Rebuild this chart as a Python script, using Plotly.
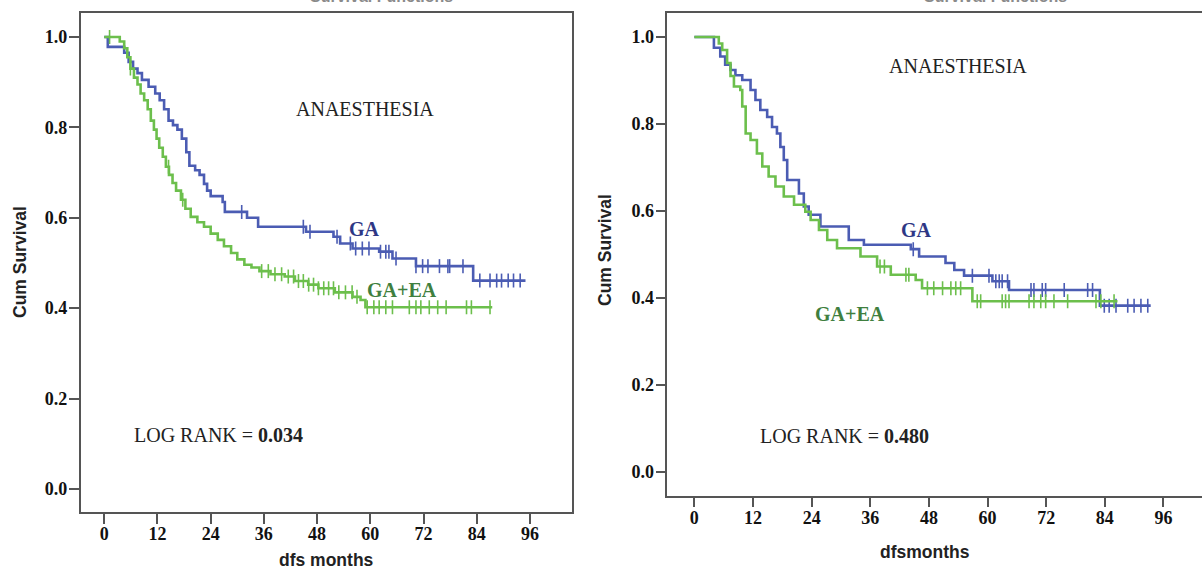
import numpy as np
import plotly.graph_objects as go

# ---------------- data ----------------
# Left panel
L_GA_t = [0, 0.8, 4.5, 5.5, 6.5, 7.5, 8.5, 10, 11.5, 12.5, 13.5, 14.5, 15.5, 16.5, 17.5, 18.5, 19.2,
          20.5, 21.5, 22.5, 23.2, 24, 26.7, 27.2, 32.2, 34.7, 45.5, 51.7, 53.2, 56, 62, 65, 70.3, 83.2, 95]
L_GA_s = [1.0, 0.978, 0.965, 0.945, 0.93, 0.92, 0.905, 0.89, 0.875, 0.86, 0.84, 0.815, 0.805, 0.795, 0.775,
          0.745, 0.715, 0.705, 0.695, 0.675, 0.66, 0.648, 0.635, 0.613, 0.60, 0.58, 0.569, 0.558, 0.543,
          0.532, 0.525, 0.51, 0.493, 0.461, 0.461]
L_GA_cens = [31, 44.9, 46.4, 52.5, 55.5, 56.7, 58.2, 59.7, 62.3, 63.5, 64.2, 65.8, 70.3, 71.8, 73, 75.6,
             77.5, 77.9, 80.9, 84.7, 87, 88.5, 89.6, 91.1, 92.3, 93.8]

L_EA_t = [0, 3.5, 4.5, 5.2, 5.9, 6.7, 7.5, 8.2, 9, 9.8, 10.5, 11.2, 11.8, 12.4, 13.2, 13.9, 14.6, 15.4,
          16.2, 17.3, 18.3, 19.5, 21, 22.5, 24, 25.6, 27, 28.6, 30, 31.6, 33.2, 35, 37.5, 40.7, 43, 46,
          48.3, 52, 56, 57.8, 58.9, 87.5]
L_EA_s = [1.0, 0.99, 0.975, 0.955, 0.93, 0.91, 0.895, 0.875, 0.86, 0.84, 0.815, 0.795, 0.775, 0.755,
          0.735, 0.713, 0.695, 0.677, 0.66, 0.64, 0.62, 0.602, 0.59, 0.58, 0.565, 0.551, 0.537, 0.522,
          0.508, 0.496, 0.49, 0.482, 0.475, 0.47, 0.46, 0.452, 0.444, 0.435, 0.425, 0.418, 0.402, 0.402]
L_EA_cens = [1.2, 5.9, 14.5, 17.7, 35.5, 37, 38.5, 40, 41.5, 42.7, 43.8, 44.9, 46.1, 47.2, 48.3, 49.5,
             50.6, 51.7, 52.9, 54.4, 55.9, 57, 59.3, 60.8, 62, 63.5, 65, 68.8, 70.3, 71.4, 73.3, 75.2,
             77.1, 81.7, 82.8, 87]

# Right panel
R_GA_t = [0, 4, 5.3, 6.3, 7.4, 8.4, 9.8, 11.5, 12.5, 13.5, 14.9, 15.9, 16.9, 17.6, 18.3, 19, 21.4,
          22.4, 23.4, 25.8, 31.6, 34.7, 44.3, 46, 51.4, 53.2, 55.2, 61, 64.4, 83, 93.4]
R_GA_s = [1.0, 0.975, 0.955, 0.936, 0.924, 0.912, 0.901, 0.878, 0.855, 0.832, 0.816, 0.793, 0.778,
          0.747, 0.717, 0.671, 0.64, 0.61, 0.591, 0.564, 0.533, 0.522, 0.512, 0.495, 0.48, 0.464,
          0.451, 0.438, 0.418, 0.382, 0.382]
R_GA_cens = [44.8, 56.9, 60.3, 61.7, 62.4, 63, 64.1, 68.9, 69.5, 71.2, 71.9, 75.7, 80.5, 81.5, 83.9,
             84.9, 86.3, 88.7, 90, 91.4, 92.8]

R_EA_t = [0, 5, 5.7, 6.7, 7.4, 8.1, 9.4, 9.8, 10.5, 11.5, 12.8, 13.9, 15.2, 16.6, 18.3, 20.4, 22.7,
          23.8, 25.5, 27.2, 29.2, 34, 37.4, 40.2, 45.3, 46.6, 56.9, 86.6]
R_EA_s = [1.0, 0.985, 0.97, 0.94, 0.91, 0.886, 0.878, 0.84, 0.778, 0.763, 0.732, 0.702, 0.679, 0.656,
          0.633, 0.614, 0.598, 0.579, 0.556, 0.533, 0.514, 0.495, 0.472, 0.453, 0.441, 0.422, 0.392,
          0.392]
R_EA_cens = [38, 38.9, 43.3, 43.9, 47.7, 49, 50.8, 52.5, 53.5, 54.5, 57.9, 58.6, 63, 63.7, 64.4, 68.5,
             69.5, 70.9, 71.9, 73.6, 76.4, 82.2, 83.2, 85.9]

x_ticks = [0, 12, 24, 36, 48, 60, 72, 84, 96]
y_ticks = [0.0, 0.2, 0.4, 0.6, 0.8, 1.0]

BLUE = "#4b5cb3"
GREEN = "#6cbf4c"
NAVY = "#2e3785"
DKGREEN = "#3f7f3f"


def step_at(times, surv, pts):
    idx = np.searchsorted(np.asarray(times), np.asarray(pts), side="right") - 1
    return [surv[i] for i in idx]


fig = go.Figure()


def add_group(t, s, cens, color, xa, ya):
    fig.add_trace(go.Scatter(x=t, y=s, mode="lines", line=dict(color=color, width=2.6, shape="hv"),
                             xaxis=xa, yaxis=ya, showlegend=False, hoverinfo="skip"))
    fig.add_trace(go.Scatter(x=cens, y=step_at(t, s, cens), mode="markers",
                             marker=dict(symbol="line-ns-open", size=10, color=color,
                                         line=dict(color=color, width=1.6)),
                             xaxis=xa, yaxis=ya, showlegend=False, hoverinfo="skip"))


add_group(L_GA_t, L_GA_s, L_GA_cens, BLUE, "x", "y")
add_group(L_EA_t, L_EA_s, L_EA_cens, GREEN, "x", "y")
add_group(R_GA_t, R_GA_s, R_GA_cens, BLUE, "x2", "y2")
add_group(R_EA_t, R_EA_s, R_EA_cens, GREEN, "x2", "y2")

tickfont = dict(family="Liberation Serif", size=18, color="#111", weight="bold")
axline = dict(showline=True, linecolor="#555", linewidth=1.5, ticks="outside", ticklen=10,
              tickwidth=1.5, tickcolor="#555", showgrid=False, zeroline=False, tickfont=tickfont)

fig.update_layout(
    width=1202, height=571, margin=dict(l=0, r=0, t=0, b=0),
    paper_bgcolor="white", plot_bgcolor="white",
    xaxis=dict(domain=[0.0671, 0.4761], range=[-5.32, 105.55], tickvals=x_ticks, mirror=True,
               anchor="y", ticklabelstandoff=-5, **axline),
    yaxis=dict(domain=[0.1033, 0.9772], range=[-0.051, 1.053], tickvals=y_ticks, tickformat=".1f",
               mirror=True, anchor="x", ticklabelstandoff=-2, **axline),
    xaxis2=dict(domain=[0.5552, 1.0], range=[-5.53, 103.9], tickvals=x_ticks, mirror=True,
                anchor="y2", ticklabelstandoff=-5, **axline),
    yaxis2=dict(domain=[0.1319, 0.9772], range=[-0.055, 1.055], tickvals=y_ticks, tickformat=".1f",
                mirror=False, anchor="x2", ticklabelstandoff=-2, **axline),
)

serif = "Liberation Serif"
FS = 20
ann = []
# left panel text
ann.append(dict(x=58.8, y=0.841, xref="x", yref="y", text="ANAESTHESIA",
                font=dict(family=serif, size=FS, color="#222")))
ann.append(dict(x=58.8, y=0.575, xref="x", yref="y", text="<b>GA</b>",
                font=dict(family=serif, size=FS, color=NAVY)))
ann.append(dict(x=67.2, y=0.440, xref="x", yref="y", text="<b>GA+EA</b>",
                font=dict(family=serif, size=FS, color=DKGREEN)))
ann.append(dict(x=25.7, y=0.119, xref="x", yref="y", text="LOG RANK = <b>0.034</b>",
                font=dict(family=serif, size=FS, color="#222")))
# right panel text
ann.append(dict(x=54.0, y=0.933, xref="x2", yref="y2", text="ANAESTHESIA",
                font=dict(family=serif, size=FS, color="#222")))
ann.append(dict(x=45.4, y=0.555, xref="x2", yref="y2", text="<b>GA</b>",
                font=dict(family=serif, size=FS, color=NAVY)))
ann.append(dict(x=31.8, y=0.363, xref="x2", yref="y2", text="<b>GA+EA</b>",
                font=dict(family=serif, size=FS, color=DKGREEN)))
ann.append(dict(x=30.8, y=0.082, xref="x2", yref="y2", text="LOG RANK = <b>0.480</b>",
                font=dict(family=serif, size=FS, color="#222")))

sans = dict(family="Liberation Sans", size=17.5, color="#222", weight="bold")
ann.append(dict(x=326 / 1202, y=1 - 560 / 571, xref="paper", yref="paper", text="dfs months", font=sans))
ann.append(dict(x=925 / 1202, y=1 - 552 / 571, xref="paper", yref="paper", text="dfsmonths", font=sans))
ann.append(dict(x=20 / 1202, y=1 - 262 / 571, xref="paper", yref="paper", text="Cum Survival",
                textangle=-90, font=sans))
ann.append(dict(x=605 / 1202, y=1 - 250 / 571, xref="paper", yref="paper", text="Cum Survival",
                textangle=-90, font=sans))
# titles clipped at the very top edge, as in the reference
gray = dict(family="Liberation Sans", size=16, color="#8a8a8a", weight="bold")
ann.append(dict(x=381 / 1202, y=1 + 3 / 571, xref="paper", yref="paper", text="Survival Functions",
                font=gray))
ann.append(dict(x=995 / 1202, y=1 + 3 / 571, xref="paper", yref="paper", text="Survival Functions",
                font=gray))

for a in ann:
    a.setdefault("showarrow", False)
    a.setdefault("xanchor", "center")
    a.setdefault("yanchor", "middle")
fig.update_layout(annotations=ann)

fig.write_html("out.html", config={"displayModeBar": False},
               post_script="document.body.style.margin='0';")
